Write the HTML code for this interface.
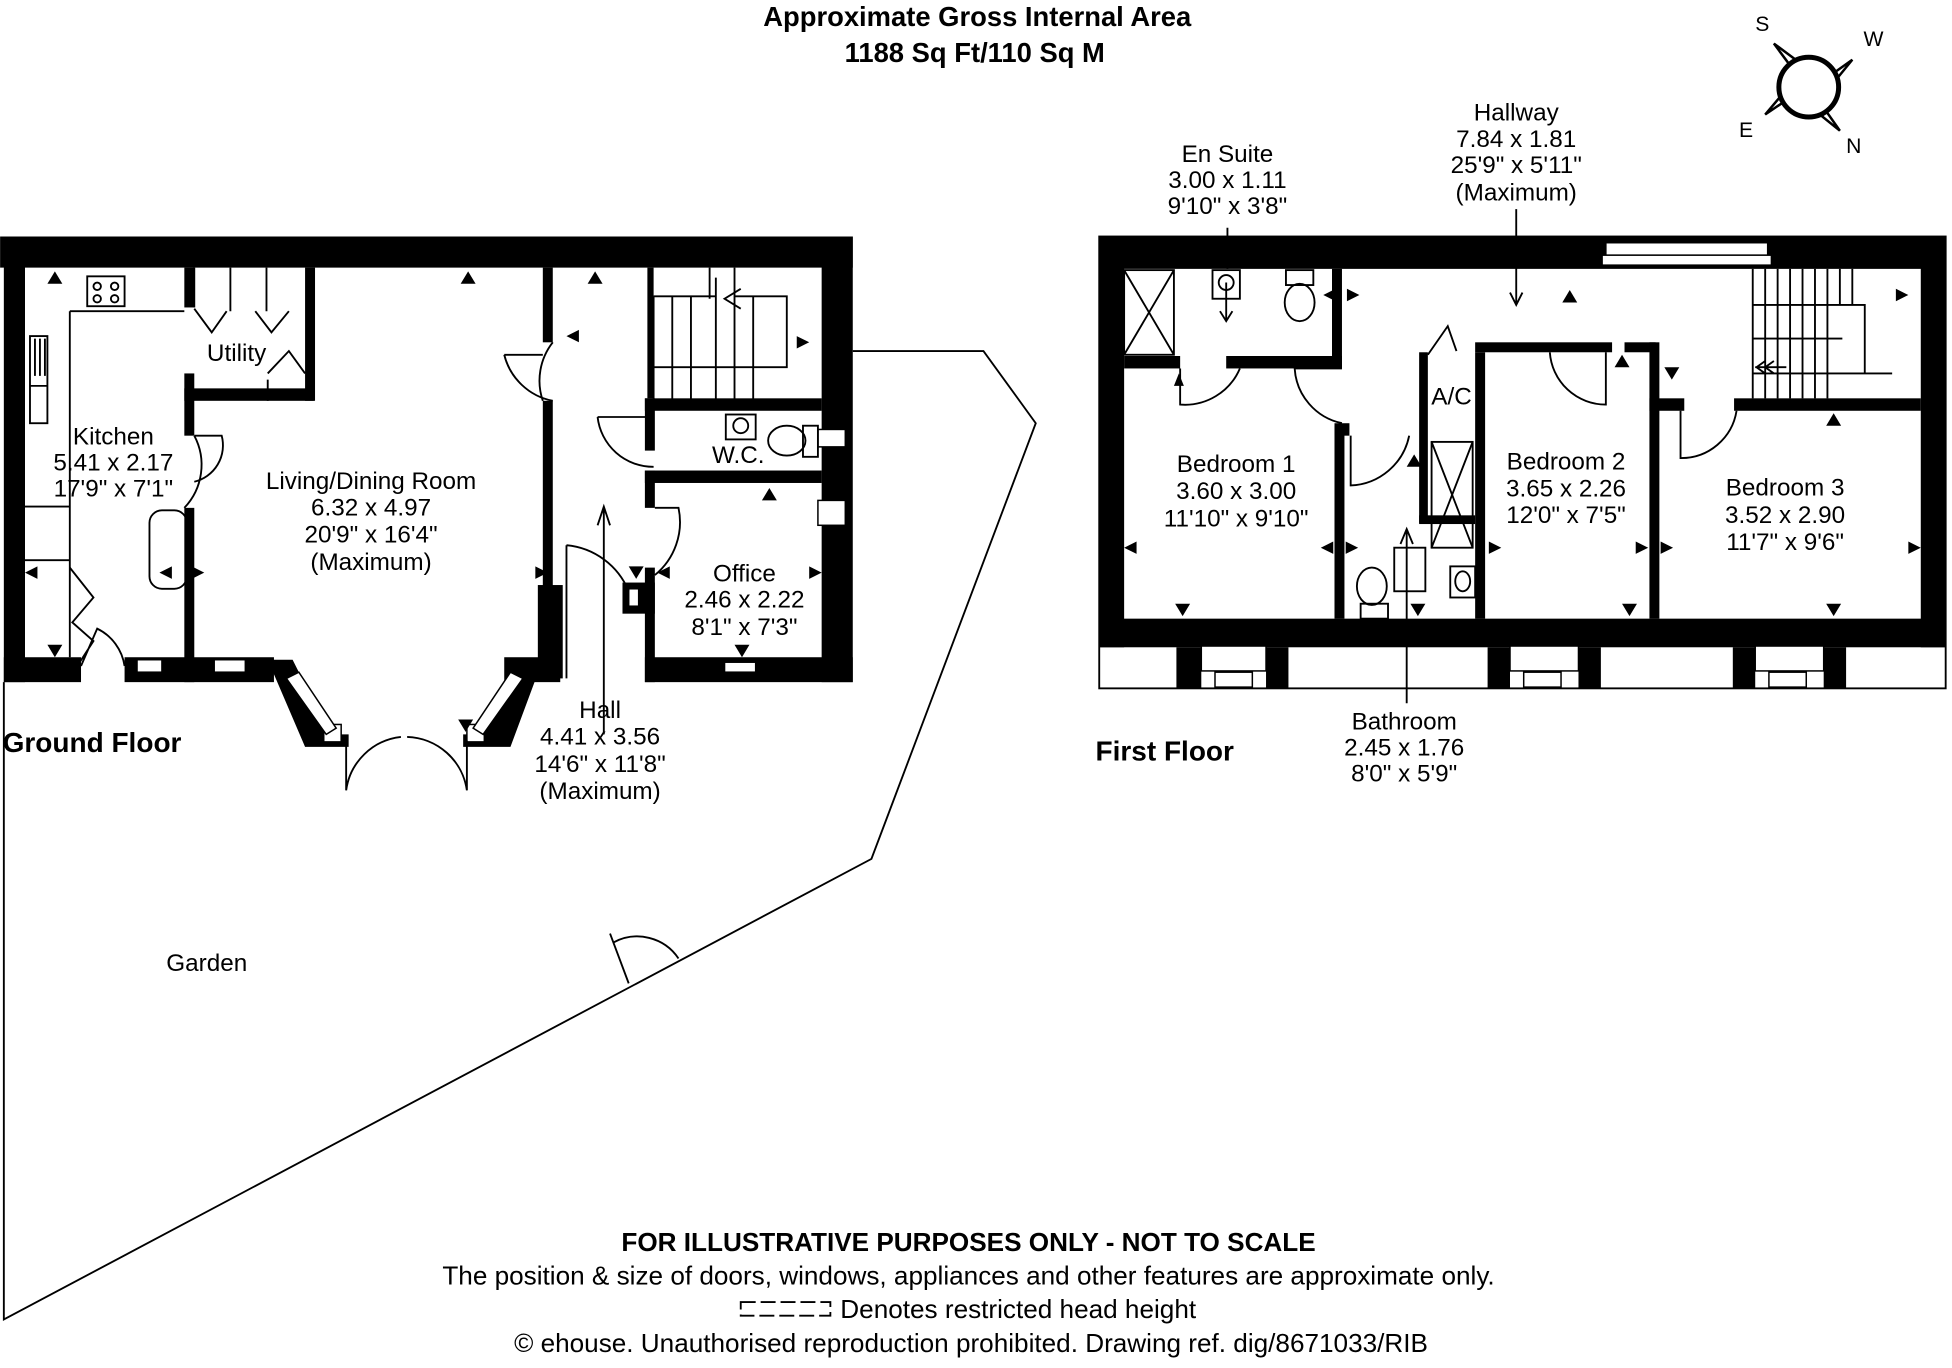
<!DOCTYPE html>
<html><head><meta charset="utf-8"><style>
html,body{margin:0;padding:0;background:#fff}
svg{display:block}
text{font-family:"Liberation Sans",Arial,sans-serif;fill:#000}
</style></head><body>
<svg width="1952" height="1368" viewBox="0 0 1568 1099" xmlns="http://www.w3.org/2000/svg">
<rect width="1568" height="1099" fill="#fff"/>
<!-- title -->
<text x="785" y="21" font-size="22" font-weight="bold" text-anchor="middle">Approximate Gross Internal Area</text>
<text x="783" y="50" font-size="22" font-weight="bold" text-anchor="middle">1188 Sq Ft/110 Sq M</text>
<!-- compass -->
<g stroke="#000" stroke-width="2" fill="#fff">
<polygon points="1425,35 1452,55 1445,62"/>
<polygon points="1488,48 1466,75 1460,68"/>
<polygon points="1478,105 1452,84 1459,78"/>
<polygon points="1418,92 1440,66 1446,73"/>
<circle cx="1453" cy="70" r="24" stroke-width="4"/>
</g>
<text x="1410" y="25" font-size="17">S</text>
<text x="1497" y="37" font-size="17">W</text>
<text x="1397" y="110" font-size="17">E</text>
<text x="1483" y="123" font-size="17">N</text>
<!-- garden outline -->
<polyline points="685,282 790,282 832,340 700,690 3,1060 3,548" fill="none" stroke="#000" stroke-width="1.5"/>
<path d="M490,750 L505,790 M493,757 A40,40 0 0 1 545,770" fill="none" stroke="#000" stroke-width="1.5"/>
<!-- ground floor walls -->
<g fill="#000">
<rect x="0" y="190" width="685" height="25"/>
<rect x="3" y="190" width="17" height="358"/>
<rect x="660" y="190" width="25" height="358"/>
<rect x="3" y="528" width="62" height="20"/>
<rect x="100" y="528" width="50" height="20"/>
<rect x="148" y="215" width="8" height="32"/>
<rect x="148" y="300" width="8" height="50"/>
<rect x="148" y="408" width="8" height="140"/>
<rect x="150" y="528" width="70" height="20"/>
<rect x="148" y="312" width="104" height="10"/>
<rect x="245" y="215" width="8" height="107"/>
<rect x="436" y="215" width="8" height="60"/>
<rect x="436" y="322" width="8" height="150"/>
<rect x="432" y="470" width="20" height="75"/>
<rect x="405" y="528" width="45" height="20"/>
<rect x="520" y="215" width="5" height="105"/>
<rect x="518" y="320" width="142" height="10"/>
<rect x="518" y="320" width="8" height="42"/>
<rect x="518" y="378" width="142" height="10"/>
<rect x="518" y="378" width="8" height="30"/>
<rect x="518" y="456" width="8" height="92"/>
<rect x="500" y="468" width="26" height="25"/>
<rect x="518" y="528" width="167" height="20"/>
<polygon points="215,530 235,530 265,590 280,590 280,600 245,600"/>
<polygon points="436,530 415,530 385,590 372,590 372,600 410,600"/>
</g>
<g fill="#fff" stroke="#000" stroke-width="1.2">
<rect x="110" y="530" width="20" height="10"/>
<rect x="172" y="530" width="25" height="10"/>
<rect x="260" y="582" width="14" height="14"/>
<rect x="375" y="582" width="14" height="14"/>
<rect x="505" y="473" width="8" height="14"/>
<rect x="582" y="532" width="25" height="8"/>
<rect x="657" y="345" width="22" height="14"/>
<rect x="657" y="402" width="22" height="20"/>
<polygon points="230,545 240,540 270,585 262,590"/>
<polygon points="420,545 410,540 380,585 388,590"/>
</g>
<!-- ground floor fixtures -->
<g fill="none" stroke="#000" stroke-width="1.5">
<path d="M56,250 H148 M56,250 V528 M20,407 H56 M20,450 H56"/>
<rect x="70" y="222" width="30" height="24"/>
<circle cx="78" cy="230" r="3"/><circle cx="92" cy="230" r="3"/><circle cx="78" cy="240" r="3"/><circle cx="92" cy="240" r="3"/>
<rect x="24" y="270" width="14" height="70"/>
<path d="M28,272 V302 M32,272 V302 M36,272 V302 M24,310 H38"/>
<path d="M156,350 A50,50 0 0 1 148,408 M156,350 H178 A30,30 0 0 1 156,387"/>
<rect x="120" y="410" width="30" height="63" rx="10"/>
<path d="M56,456 L75,480 L58,500 L75,515 L62,535 M65,535 L78,505 A40,40 0 0 1 100,535"/>
<path d="M156,215 V247 M185,215 V250 M214,215 V250 M156,248 L170,267 L182,250 M205,250 L218,267 L232,250 M215,300 L232,282 L245,300 M215,305 V322"/>
<path d="M444,275 A50,50 0 0 0 436,322 M405,285 H436 M405,285 A50,50 0 0 0 444,322"/>
<path d="M480,335 H520 M480,335 A45,45 0 0 0 525,375"/>
<path d="M526,408 H545 A55,55 0 0 1 526,462 M455,438 A60,60 0 0 1 505,475 M455,438 V545"/>
<path d="M485,590 V407 M480,422 L485,407 L490,422"/>
<path d="M525,238 H575 M525,238 V323 M575,223 V323 M555,238 V323 M540,238 V323 M590,238 V323 M605,238 V323 M590,215 V295 M570,215 V240 M590,238 H632 V295 H525"/>
<path d="M595,232 L582,240 L595,248"/>
<rect x="583" y="333" width="24" height="20"/><circle cx="595" cy="342" r="6"/>
<ellipse cx="632" cy="354" rx="15" ry="12"/><rect x="645" y="342" width="12" height="25"/>
<path d="M278,635 V595 M375,635 V595 M278,635 A50,50 0 0 1 322,592 M375,635 A50,50 0 0 0 327,592"/>
</g>
<!-- ground floor arrows -->
<g fill="#000">
<polygon points="38,228 44,218 50,228"/><polygon points="370,228 376,218 382,228"/><polygon points="472,228 478,218 484,228"/>
<polygon points="640,270 650,275 640,280"/><polygon points="455,270 465,265 465,275"/>
<polygon points="20,460 30,455 30,465"/><polygon points="128,460 138,455 138,465 "/><polygon points="154,455 164,460 154,465"/>
<polygon points="38,518 44,528 50,518"/><polygon points="430,455 440,460 430,465"/>
<polygon points="612,402 618,392 624,402"/><polygon points="528,460 538,455 538,465"/><polygon points="650,455 660,460 650,465"/>
<polygon points="505,455 511,465 517,455"/><polygon points="590,518 596,528 602,518"/>
<polygon points="368,578 374,588 380,578"/>
</g>
<!-- ground floor labels -->
<g font-size="19.5" text-anchor="middle">
<text x="190" y="290">Utility</text>
<text x="91" y="357">Kitchen</text>
<text x="91" y="378">5.41 x 2.17</text>
<text x="91" y="399">17'9" x 7'1"</text>
<text x="298" y="393">Living/Dining Room</text>
<text x="298" y="414">6.32 x 4.97</text>
<text x="298" y="436">20'9" x 16'4"</text>
<text x="298" y="458">(Maximum)</text>
<text x="593" y="372">W.C.</text>
<text x="598" y="467">Office</text>
<text x="598" y="488">2.46 x 2.22</text>
<text x="598" y="510">8'1" x 7'3"</text>
<text x="482" y="577">Hall</text>
<text x="482" y="598">4.41 x 3.56</text>
<text x="482" y="620">14'6" x 11'8"</text>
<text x="482" y="642">(Maximum)</text>
<text x="166" y="780">Garden</text>
</g>
<text x="2" y="604" font-size="22.5" font-weight="bold">Ground Floor</text>
<!-- first floor -->
<rect x="883" y="190" width="680" height="363" fill="none" stroke="#000" stroke-width="1.5"/>
<g fill="#000">
<rect x="883" y="190" width="680" height="26"/>
<rect x="883" y="190" width="20" height="330"/>
<rect x="1543" y="190" width="20" height="330"/>
<rect x="883" y="497" width="680" height="23"/>
<rect x="945" y="520" width="20" height="33"/><rect x="1017" y="520" width="18" height="33"/>
<rect x="1195" y="520" width="18" height="33"/><rect x="1268" y="520" width="18" height="33"/>
<rect x="1392" y="520" width="18" height="33"/><rect x="1465" y="520" width="18" height="33"/>
<rect x="903" y="286" width="45" height="10"/><rect x="985" y="286" width="93" height="10"/>
<rect x="1070" y="216" width="8" height="80"/>
<rect x="1072" y="342" width="8" height="155"/><rect x="1072" y="340" width="12" height="10"/>
<rect x="1140" y="283" width="7" height="137"/><rect x="1140" y="414" width="45" height="7"/>
<rect x="1185" y="283" width="8" height="214"/><rect x="1185" y="275" width="110" height="8"/>
<rect x="1305" y="275" width="25" height="8"/>
<rect x="1325" y="275" width="8" height="222"/><rect x="1325" y="320" width="28" height="10"/>
<rect x="1393" y="320" width="150" height="10"/>
</g>
<g fill="#fff" stroke="#000" stroke-width="1.2">
<rect x="965" y="519" width="52" height="20"/><rect x="1213" y="519" width="55" height="20"/><rect x="1410" y="519" width="55" height="20"/>
<rect x="976" y="540" width="30" height="12"/><rect x="1224" y="540" width="30" height="12"/><rect x="1421" y="540" width="30" height="12"/>
<rect x="1290" y="195" width="130" height="10"/><rect x="1287" y="205" width="136" height="8"/>
</g>
<g stroke="#000" stroke-width="2" stroke-dasharray="6,4"><path d="M965,516 H1017 M1213,516 H1268 M1410,516 H1465"/></g>
<g fill="none" stroke="#000" stroke-width="1.5">
<rect x="903" y="217" width="40" height="68"/><path d="M903,217 L943,285 M943,217 L903,285"/>
<rect x="974" y="217" width="22" height="23"/><circle cx="985" cy="227" r="6"/>
<path d="M985,227 V258 M980,250 L985,258 L990,250"/>
<rect x="1033" y="217" width="22" height="12"/><ellipse cx="1044" cy="243" rx="12" ry="15"/>
<path d="M948,296 V325 A48,48 0 0 0 996,296"/>
<path d="M1078,296 H1040 A48,48 0 0 0 1078,340"/>
<path d="M1085,350 V390 A50,50 0 0 0 1132,350"/>
<path d="M1147,285 L1163,262 L1170,282"/>
<rect x="1150" y="355" width="33" height="85"/><path d="M1150,355 L1183,440 M1183,355 L1150,440"/>
<rect x="1120" y="440" width="25" height="35"/>
<path d="M1130,497 V425 M1125,437 L1130,425 L1135,437"/>
<ellipse cx="1102" cy="471" rx="12" ry="15"/><rect x="1093" y="485" width="22" height="12"/>
<rect x="1165" y="455" width="20" height="25"/><ellipse cx="1175" cy="467" rx="6" ry="8"/>
<path d="M1245,283 A45,45 0 0 0 1290,325 V283"/>
<path d="M1350,330 V368 A45,45 0 0 0 1395,330"/>
<path d="M1408,216 V320 M1408,300 H1520 M1408,245 H1498 V300 H1408 M1408,272 H1480"/>
<path d="M1418,216 V320 M1428,216 V320 M1438,216 V320 M1448,216 V320 M1458,216 V320 M1468,216 V320 M1478,216 V245 M1488,216 V245"/>
<path d="M1410,295 H1435 M1425,290 L1418,295 L1425,300 M1418,290 L1411,295 L1418,300"/>
<path d="M986,183 V216 M1218,168 V245 M1213,235 L1218,245 L1223,235 M1130,497 V565"/>
</g>
<g fill="#000">
<polygon points="1073,232 1063,237 1073,242"/><polygon points="1082,232 1092,237 1082,242"/>
<polygon points="1255,243 1261,233 1267,243"/><polygon points="1523,232 1533,237 1523,242"/>
<polygon points="943,310 947,300 951,310"/><polygon points="1297,295 1303,285 1309,295"/><polygon points="1337,295 1343,305 1349,295"/>
<polygon points="1467,342 1473,332 1479,342"/><polygon points="1130,375 1136,365 1142,375"/>
<polygon points="903,440 913,435 913,445"/><polygon points="1071,435 1061,440 1071,445"/><polygon points="1081,435 1091,440 1081,445"/>
<polygon points="1196,435 1206,440 1196,445"/><polygon points="1314,435 1324,440 1314,445"/><polygon points="1334,435 1344,440 1334,445"/><polygon points="1533,435 1543,440 1533,445"/>
<polygon points="944,485 950,495 956,485"/><polygon points="1133,485 1139,495 1145,485"/><polygon points="1303,485 1309,495 1315,485"/><polygon points="1467,485 1473,495 1479,485"/>
</g>
<g font-size="19.5" text-anchor="middle">
<text x="986" y="130">En Suite</text><text x="986" y="151">3.00 x 1.11</text><text x="986" y="172">9'10" x 3'8"</text>
<text x="1218" y="97">Hallway</text><text x="1218" y="118">7.84 x 1.81</text><text x="1218" y="139">25'9" x 5'11"</text><text x="1218" y="161">(Maximum)</text>
<text x="1166" y="325">A/C</text>
<text x="993" y="379">Bedroom 1</text><text x="993" y="401">3.60 x 3.00</text><text x="993" y="423">11'10" x 9'10"</text>
<text x="1258" y="377">Bedroom 2</text><text x="1258" y="399">3.65 x 2.26</text><text x="1258" y="420">12'0" x 7'5"</text>
<text x="1434" y="398">Bedroom 3</text><text x="1434" y="420">3.52 x 2.90</text><text x="1434" y="442">11'7" x 9'6"</text>
<text x="1128" y="586">Bathroom</text><text x="1128" y="607">2.45 x 1.76</text><text x="1128" y="628">8'0" x 5'9"</text>
</g>
<text x="880" y="611" font-size="22.5" font-weight="bold">First Floor</text>
<!-- footer -->
<text x="778" y="1005" font-size="21" font-weight="bold" text-anchor="middle">FOR ILLUSTRATIVE PURPOSES ONLY - NOT TO SCALE</text>
<text x="778" y="1032" font-size="21" text-anchor="middle">The position &amp; size of doors, windows, appliances and other features are approximate only.</text>
<rect x="595" y="1046" width="72" height="11" fill="none" stroke="#000" stroke-width="1.5" stroke-dasharray="12,4"/>
<text x="675" y="1059" font-size="21">Denotes restricted head height</text>
<text x="780" y="1086" font-size="21" text-anchor="middle">© ehouse. Unauthorised reproduction prohibited. Drawing ref. dig/8671033/RIB</text>
</svg>
</body></html>
